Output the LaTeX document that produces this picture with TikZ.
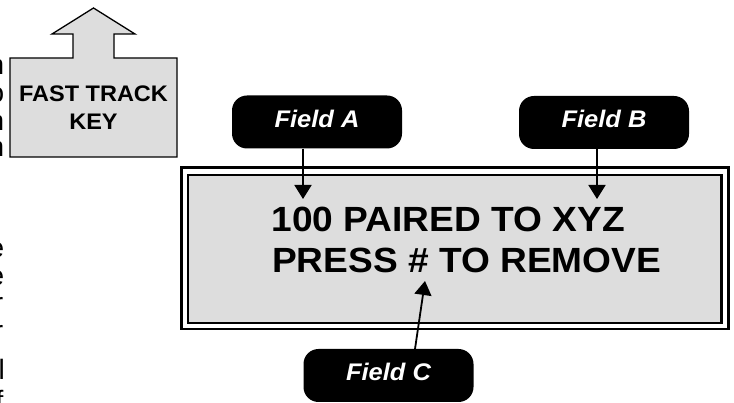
\documentclass[tikz,border=0pt]{standalone}
\usepackage{graphicx}
\usepackage{fontspec}
\setmainfont{Liberation Sans}
\usetikzlibrary{arrows.meta}
\definecolor{panel}{RGB}{221,221,221}
\newcommand{\stretchtext}[2][1.05]{\scalebox{#1}[1]{#2}}
\begin{document}
\begin{tikzpicture}[x=1pt,y=-1pt,
  keyshape/.style={draw=black,line width=1.3pt,fill=panel,line join=miter},
  keytext/.style={font=\bfseries\fontsize{22.5}{28}\selectfont,inner sep=0pt,anchor=base},
  frame/.style={draw=black,line width=2.8pt},
  lcdtext/.style={font=\bfseries\fontsize{35}{41}\selectfont,inner sep=0pt,anchor=base west},
  fieldlabel/.style={fill=black,rounded corners=15pt,minimum width=170pt,minimum height=53pt,
    inner sep=0pt,text=white,font=\bfseries\itshape\fontsize{24}{28}\selectfont,
    text height=17.5pt,text depth=6.5pt},
  ptr/.style={line width=1.8pt,-{Triangle[length=14pt,width=17pt]}},
  frag/.style={font=\fontsize{28}{30}\selectfont,inner sep=0pt,anchor=base east}]
\useasboundingbox (0,0) rectangle (734,403);

% fast track key
\draw[keyshape] (10,157) -- (10,58) -- (73,58) -- (73,34) -- (52,34) -- (93.5,8)
  -- (135,34) -- (114,34) -- (114,58) -- (177,58) -- (177,157) -- cycle;
\node[keytext] (key1) at (93.5,102) {\stretchtext[1.045]{FAST TRACK}};
\node[keytext] (key2) at (93.5,130) {\stretchtext[1.045]{KEY}};

% display
\draw[frame] (181.5,167.5) rectangle (728.5,329);
\draw[frame,fill=panel] (188,175) rectangle (721.5,323);
\node[lcdtext] (line1) at (271.5,232) {\stretchtext[1.06]{100 PAIRED TO XYZ}};
\node[lcdtext] (line2) at (272,273) {\stretchtext[1.06]{PRESS \# TO REMOVE}};

% field labels
\node[fieldlabel] (fa) at (317,122) {\stretchtext[1.06]{Field A}};
\node[fieldlabel] (fb) at (604,122.5) {\stretchtext[1.06]{Field B}};
\node[fieldlabel] (fc) at (388.5,375.5) {\stretchtext[1.06]{Field C}};

\coordinate (tipA) at (303,199);
\coordinate (tipB) at (597,199);
\coordinate (tipC) at (425,281);
\coordinate (baseC) at (415,349);
\draw[ptr] (tipA |- fa.south) -- (tipA);
\draw[ptr] (tipB |- fb.south) -- (tipB);
\draw[ptr] (baseC) -- (tipC);

% cut-off text at the left edge
\begin{scope}
\clip (0,0) rectangle (734,403);
\node[frag] (g1) at (4.5,75) {n};
\node[frag] (g2) at (4.5,103) {o};
\node[frag] (g3) at (4.5,131) {n};
\node[frag] (g4) at (4.5,157) {n};
\node[frag] (g5) at (4.5,258) {e};
\node[frag] (g6) at (4.5,286) {e};
\node[frag] (g7) at (3.5,313) {r};
\node[frag] (g8) at (3.5,341) {r};
\node[frag] (g9) at (5,380) {l};
\node[frag] (g10) at (3.5,410) {f};
\end{scope}
\end{tikzpicture}
\end{document}
